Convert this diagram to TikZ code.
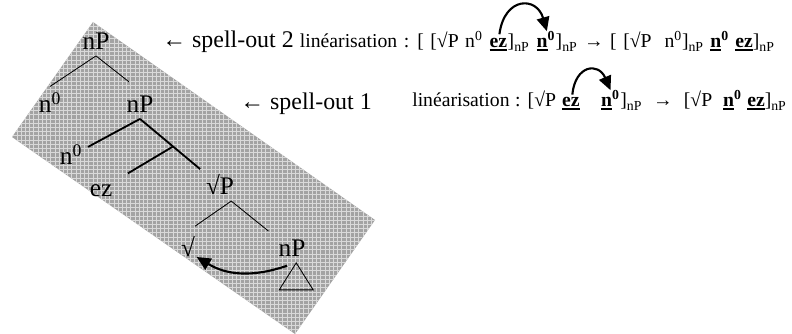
\documentclass[tikz,border=0pt]{standalone}
\usepackage{fontspec}
\setmainfont{Liberation Serif}
\usetikzlibrary{positioning,arrows.meta,patterns}
\newcommand\undl[1]{\vtop{\hbox{#1}\kern0.9pt\hrule height 1.2pt}}
\newcommand\nz{n\textsuperscript{0}}
\newcommand\nzb{\undl{\textbf{n}}\textsuperscript{\textbf{0}}}
\newcommand\ezb{\undl{\textbf{ez}}}
\newcommand\np{\textsubscript{nP}}
\newcommand\linfonta{\fontsize{14}{14}\selectfont\spaceskip=0.33em\relax}
\newcommand\linfontb{\fontsize{14}{14}\selectfont\spaceskip=0.28em\relax}
\begin{document}
\begin{tikzpicture}[x=0.025cm, y=-0.025cm,
  tree/.style={anchor=base, inner sep=4pt, font=\fontsize{18}{18}\selectfont},
  spell/.style={anchor=base west, inner sep=0pt, font=\fontsize{17}{17}\selectfont},
  lin/.style={anchor=base west, inner sep=0pt, font=\linfonta},
  linb/.style={anchor=base west, inner sep=0pt, font=\linfontb},
  thinbr/.style={line width=0.6pt},
  thickbr/.style={line width=1.3pt},
  mv/.style={line width=1.5pt, -{Triangle[length=10pt,width=9pt]}}]
  \useasboundingbox (0,0) rectangle (792,334);
  \path[fill=black!36, postaction={pattern=grid, pattern color=white!85!black}]
    (93,22) -- (375,220) -- (295,334) -- (12,137) -- cycle;
  % tree
  \node[tree] (npA) at (96,50) {nP};
  \node[tree] (nzA) at (50,113) {\nz};
  \node[tree] (npB) at (140,113) {nP};
  \node[tree] (nzB) at (71,165) {\nz};
  \node[tree] (ez) at (101,197) {ez};
  \node[tree] (rtP) at (220,195) {√P};
  \node[tree] (rt) at (188,257) {√};
  \node[tree] (npC) at (292,257) {nP};
  \draw[thinbr] (npA.south) -- (nzA.north);
  \draw[thinbr, shorten >=10pt] (npA.south) -- (npB.north);
  \draw[thickbr] (npB.south) -- ([yshift=-6pt]nzB.north east);
  \draw[thickbr] (npB.south) -- coordinate[pos=.55] (brB) (rtP.north west);
  \draw[thickbr, shorten >=8pt] (brB) -- (ez.north east);
  \draw[thinbr, shorten >=6pt] ([xshift=8pt]rtP.south) -- (rt.north);
  \draw[thinbr, shorten >=4pt] ([xshift=8pt]rtP.south) -- (npC.north west);
  \draw[thinbr] ([xshift=3pt]npC.south) -- ++(-17,27) -- ++(34,0) -- cycle;
  \draw[mv] ([xshift=-3.5pt,yshift=-2pt]npC.south) .. controls +(-35,12) and +(30,18) .. ([xshift=-3pt]rt.base east);
  % linearisations
  \node[spell] (so2) at (162,48) {← spell-out 2};
  \node[lin] (l1a) at ([xshift=4pt]so2.base east) {linéarisation : [ [√P \nz};
  \node[lin] (ez1) at (l1a.base east) {\ \ezb};
  \node[lin] (l1b) at (ez1.base east) {]\np};
  \node[lin] (n1) at (l1b.base east) {\ \nzb};
  \node[lin] (l1c) at (n1.base east) {]\np\ → [ [√P\ \ \nz]\np\ \nzb\ \ezb]\np};
  \node[spell] (so1) at (240,110) {← spell-out 1};
  \node[linb] (l2a) at (412,107) {linéarisation : [√P};
  \node[linb] (ez2) at (l2a.base east) {\ \ezb};
  \node[linb, xshift=15pt] (n2) at (ez2.base east) {\nzb};
  \node[linb] (l2c) at (n2.base east) {]\np\ \ →\ \ [√P\ \ \nzb\ \ezb]\np};
  \draw[mv] ([xshift=3pt,yshift=3pt]ez1.north) .. controls +(5,-38) and +(-10,-35) .. ([xshift=3pt]n1.north);
  \draw[mv] ([xshift=3pt,yshift=2pt]ez2.north) .. controls +(3,-30) and +(-12,-28) .. (n2.north);
\end{tikzpicture}
\end{document}
